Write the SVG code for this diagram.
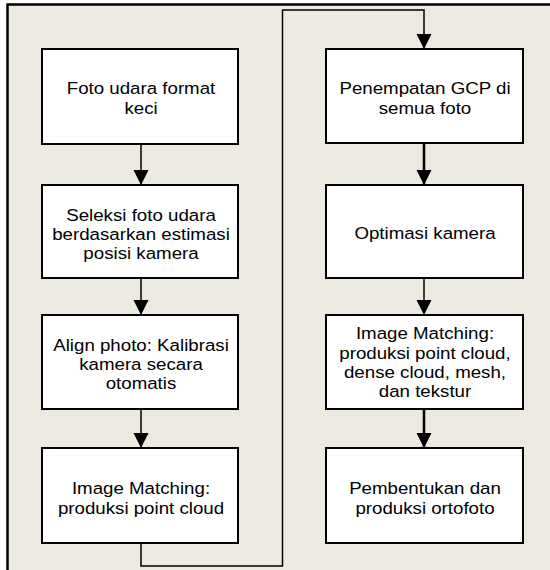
<svg xmlns="http://www.w3.org/2000/svg" width="550" height="570" viewBox="0 0 550 570">
<style>
.box{fill:#ffffff;stroke:#000000;stroke-width:2}
.lbl{font-family:"Liberation Sans",Arial,sans-serif;font-size:17px;fill:#000000;text-anchor:middle}
.con{fill:none;stroke:#000000;stroke-width:1.5}
.con2{fill:none;stroke:#000000;stroke-width:2.5}
</style>
<defs>
<marker id="ah" markerUnits="userSpaceOnUse" markerWidth="16" markerHeight="16" viewBox="0 0 16 16" refX="15" refY="8" orient="auto">
<path d="M0,0.5 L15,8 L0,15.5 Z" fill="#000000"/>
</marker>
</defs>
<rect x="0" y="0" width="550" height="570" fill="#ffffff"/>
<rect x="7" y="4" width="543" height="566" fill="#ECE9E0"/>
<path d="M7.5,570 V4.5 H550" fill="none" stroke="#000000" stroke-width="2.5"/>

<g id="connectors">
<path class="con" d="M141,144 V185" marker-end="url(#ah)"/>
<path class="con" d="M141,278 V315" marker-end="url(#ah)"/>
<path class="con" d="M141,409 V448" marker-end="url(#ah)"/>
<path class="con" d="M141,543 V566 H282.5 V10 H424 V49" marker-end="url(#ah)"/>
<path class="con2" d="M424,143 V185" marker-end="url(#ah)"/>
<path class="con" d="M424,278 V315" marker-end="url(#ah)"/>
<path class="con2" d="M424,409 V448" marker-end="url(#ah)"/>
</g>

<g id="n1">
<rect class="box" x="42" y="49" width="196" height="95"/>
<text class="lbl" transform="translate(141 0) scale(1.1 1)" x="0" y="94.4">Foto udara format<tspan x="0" y="113.6">keci</tspan></text>
</g>
<g id="n2">
<rect class="box" x="42" y="185" width="196" height="93"/>
<text class="lbl" transform="translate(141 0) scale(1.1 1)" x="0" y="220.8">Seleksi foto udara<tspan x="0" y="240">berdasarkan estimasi</tspan><tspan x="0" y="259.2">posisi kamera</tspan></text>
</g>
<g id="n3">
<rect class="box" x="42" y="315" width="196" height="94"/>
<text class="lbl" transform="translate(141 0) scale(1.1 1)" x="0" y="350.8">Align photo: Kalibrasi<tspan x="0" y="370">kamera secara</tspan><tspan x="0" y="389.2">otomatis</tspan></text>
</g>
<g id="n4">
<rect class="box" x="42" y="448" width="196" height="95"/>
<text class="lbl" transform="translate(141 0) scale(1.1 1)" x="0" y="494.4">Image Matching:<tspan x="0" y="513.6">produksi point cloud</tspan></text>
</g>
<g id="n5">
<rect class="box" x="326" y="49" width="197" height="94"/>
<text class="lbl" transform="translate(425 0) scale(1.1 1)" x="0" y="94.4">Penempatan GCP di<tspan x="0" y="113.6">semua foto</tspan></text>
</g>
<g id="n6">
<rect class="box" x="326" y="185" width="197" height="93"/>
<text class="lbl" transform="translate(425 0) scale(1.1 1)" x="0" y="239">Optimasi kamera</text>
</g>
<g id="n7">
<rect class="box" x="326" y="315" width="197" height="94"/>
<text class="lbl" transform="translate(425 0) scale(1.1 1)" x="0" y="339.5">Image Matching:<tspan x="0" y="358.7">produksi point cloud,</tspan><tspan x="0" y="377.9">dense cloud, mesh,</tspan><tspan x="0" y="397.1">dan tekstur</tspan></text>
</g>
<g id="n8">
<rect class="box" x="326" y="448" width="197" height="95"/>
<text class="lbl" transform="translate(425 0) scale(1.1 1)" x="0" y="494.4">Pembentukan dan<tspan x="0" y="513.6">produksi ortofoto</tspan></text>
</g>
</svg>
